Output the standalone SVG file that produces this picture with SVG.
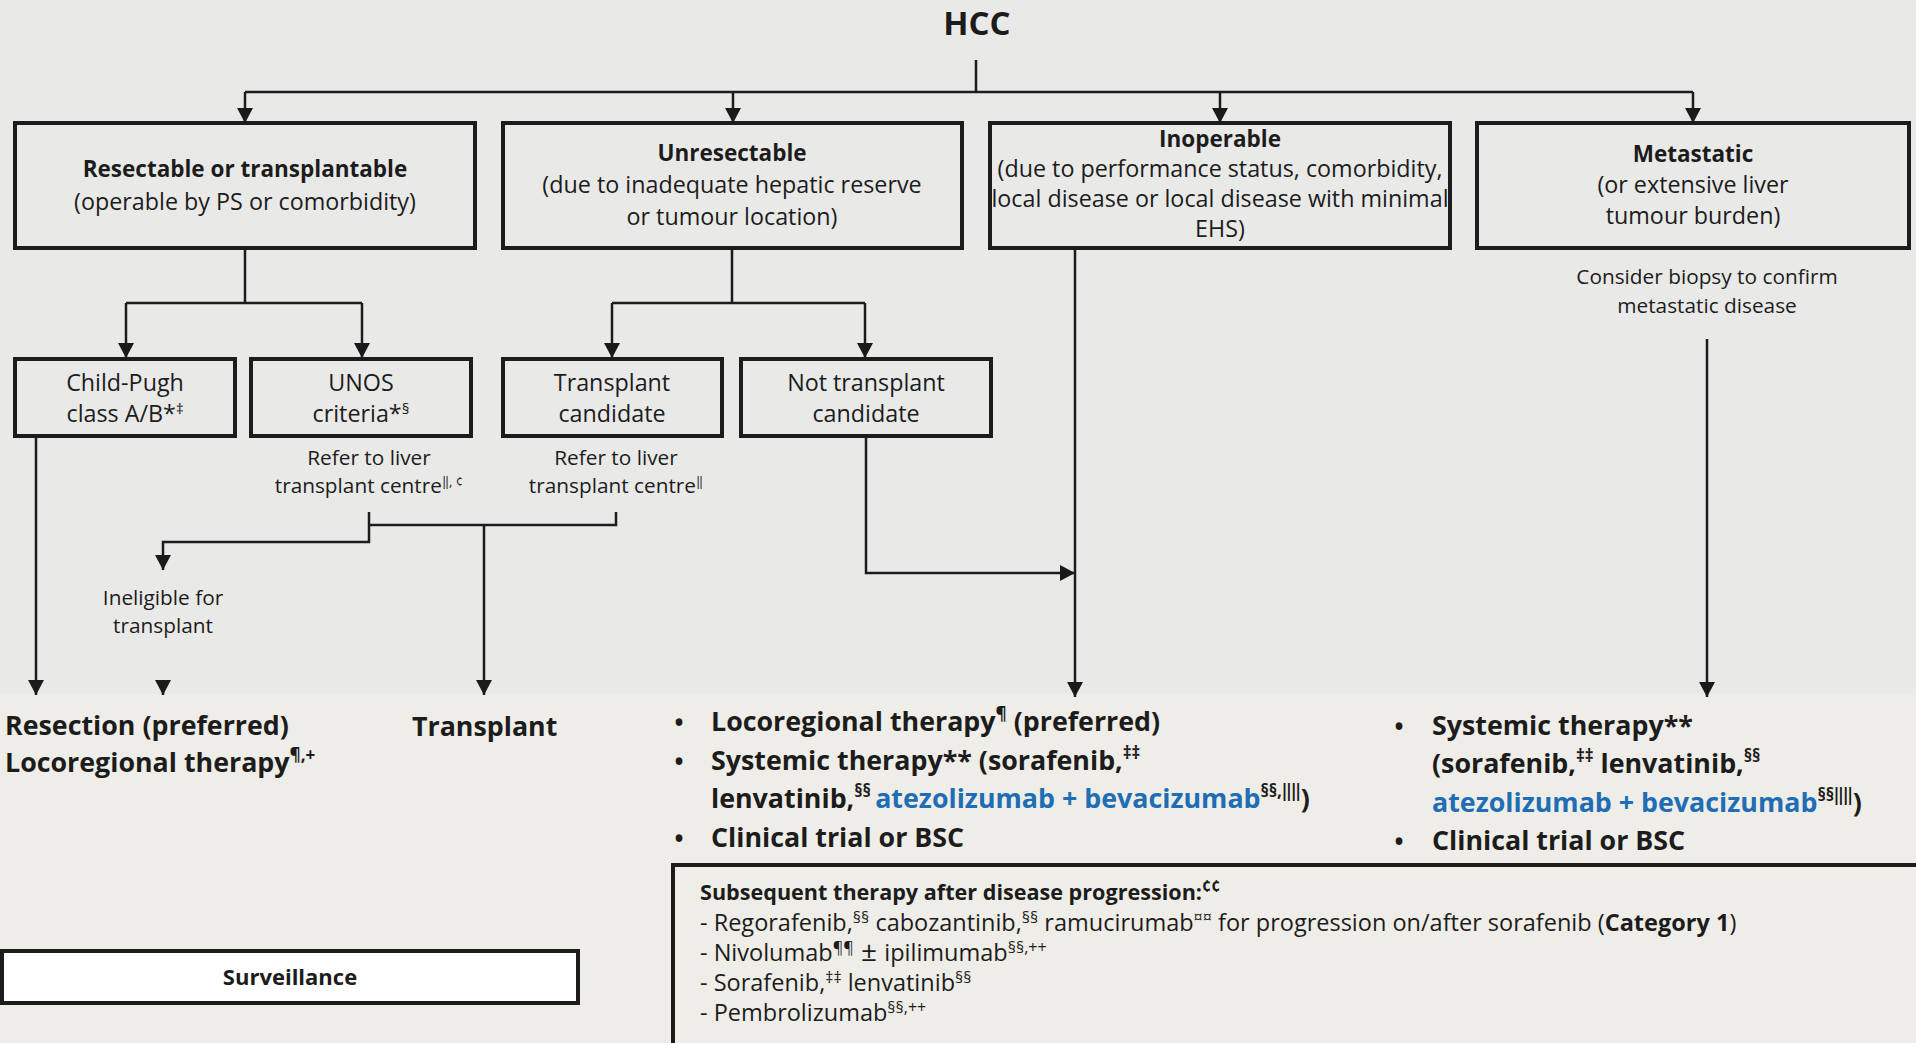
<svg xmlns="http://www.w3.org/2000/svg" width="1916" height="1043" viewBox="0 0 1916 1043">
<defs>
<marker id="ah" markerUnits="userSpaceOnUse" markerWidth="16" markerHeight="16" refX="15" refY="8" orient="auto">
<path d="M0,0 L15,8 L0,16 z" fill="#1a1a1a"/>
</marker>
<style>
.t{font-family:"Open Sans","Noto Sans","Liberation Sans",sans-serif;fill:#1c1c1c;}
.b{font-weight:bold;}
.m{text-anchor:middle;}
.bx{font-size:23.3px;}
.bt{font-size:22.5px;font-weight:bold;}
.sm{font-size:20.8px;}
.big{font-size:26.8px;font-weight:bold;}
.bul{font-size:32px;}
.sub{font-size:23.5px;}
.sp{font-size:16px;}
.blue{fill:#1f6db4;}
.box{fill:none;stroke:#1c1c1c;stroke-width:4;}
.c{fill:none;stroke:#1c1c1c;stroke-width:2.5;}
.a{marker-end:url(#ah);}
</style>
</defs>
<rect x="0" y="0" width="1916" height="694" fill="#e9e9e8"/>
<rect x="0" y="694" width="1916" height="349" fill="#eeede7"/>

<g id="connectors">
<path class="c" d="M976,60 V92 M245,92 H1693"/>
<path class="c a" d="M245,92 V123"/>
<path class="c a" d="M733,92 V123"/>
<path class="c a" d="M1220,92 V123"/>
<path class="c a" d="M1693,92 V123"/>
<path class="c" d="M245,248 V303 M126,303 H362"/>
<path class="c a" d="M126,303 V358"/>
<path class="c a" d="M362,303 V358"/>
<path class="c" d="M732,248 V303 M612,303 H865"/>
<path class="c a" d="M612,303 V358"/>
<path class="c a" d="M865,303 V358"/>
<path class="c a" d="M36,436 V695"/>
<path class="c a" d="M369,512 V542 H163 V570"/>
<path class="c" d="M369,525 H616 V512"/>
<path class="c a" d="M484,525 V695"/>
<path class="c a" d="M163,680 V695"/>
<path class="c a" d="M866,436 V573 H1075"/>
<path class="c a" d="M1075,248 V697"/>
<path class="c a" d="M1707,339 V697"/>
</g>

<g id="hcc"><text class="t b m" x="977" y="35" font-size="33">HCC</text></g>

<g id="resectable">
<rect class="box" x="15" y="123" width="460" height="125"/>
<text class="t m bt" x="245" y="177">Resectable or transplantable</text>
<text class="t m bx" x="245" y="210">(operable by PS or comorbidity)</text>
</g>

<g id="unresectable">
<rect class="box" x="503" y="123" width="459" height="125"/>
<text class="t m bt" x="732" y="161">Unresectable</text>
<text class="t m bx" x="732" y="193">(due to inadequate hepatic reserve</text>
<text class="t m bx" x="732" y="225">or tumour location)</text>
</g>

<g id="inoperable">
<rect class="box" x="990" y="123" width="460" height="125"/>
<text class="t m bt" x="1220" y="147">Inoperable</text>
<text class="t m bx" x="1220" y="177">(due to performance status, comorbidity,</text>
<text class="t m bx" x="1220" y="207">local disease or local disease with minimal</text>
<text class="t m bx" x="1220" y="237">EHS)</text>
</g>

<g id="metastatic">
<rect class="box" x="1477" y="123" width="432" height="125"/>
<text class="t m bt" x="1693" y="162">Metastatic</text>
<text class="t m bx" x="1693" y="193">(or extensive liver</text>
<text class="t m bx" x="1693" y="224">tumour burden)</text>
<text class="t m sm" x="1707" y="284">Consider biopsy to confirm</text>
<text class="t m sm" x="1707" y="313">metastatic disease</text>
</g>

<g id="childpugh">
<rect class="box" x="15" y="359" width="220" height="77"/>
<text class="t m bx" x="125" y="391">Child-Pugh</text>
<text class="t m bx" x="125" y="422">class A/B*<tspan font-size="15" dy="-8">‡</tspan></text>
</g>

<g id="unos">
<rect class="box" x="251" y="359" width="220" height="77"/>
<text class="t m bx" x="361" y="391">UNOS</text>
<text class="t m bx" x="361" y="422">criteria*<tspan font-size="15" dy="-8">§</tspan></text>
<text class="t m sm" x="369" y="465">Refer to liver</text>
<text class="t m sm" x="369" y="493">transplant centre<tspan font-size="13" dy="-7">‖, ¢</tspan></text>
</g>

<g id="transplantcandidate">
<rect class="box" x="503" y="359" width="219" height="77"/>
<text class="t m bx" x="612" y="391">Transplant</text>
<text class="t m bx" x="612" y="422">candidate</text>
<text class="t m sm" x="616" y="465">Refer to liver</text>
<text class="t m sm" x="616" y="493">transplant centre<tspan font-size="13" dy="-7">‖</tspan></text>
</g>

<g id="nottransplant">
<rect class="box" x="741" y="359" width="250" height="77"/>
<text class="t m bx" x="866" y="391">Not transplant</text>
<text class="t m bx" x="866" y="422">candidate</text>
</g>

<g id="ineligible">
<text class="t m sm" x="163" y="605">Ineligible for</text>
<text class="t m sm" x="163" y="633">transplant</text>
</g>

<g id="resection">
<text class="t big" x="5" y="735">Resection (preferred)</text>
<text class="t big" x="5" y="772">Locoregional therapy<tspan font-size="17" dy="-11">¶,+</tspan></text>
</g>

<g id="transplant">
<text class="t big" x="412" y="736">Transplant</text>
</g>

<g id="inoperable-tx">
<text class="t bul" x="673" y="734">•</text>
<text class="t big" x="711" y="731">Locoregional therapy<tspan font-size="17" dy="-11">¶</tspan><tspan dy="11"> (preferred)</tspan></text>
<text class="t bul" x="673" y="773">•</text>
<text class="t big" x="711" y="770">Systemic therapy** (sorafenib,<tspan font-size="17" dy="-11">‡‡</tspan></text>
<text class="t big" x="711" y="808">lenvatinib,<tspan font-size="17" dy="-11">§§ </tspan><tspan class="blue" dy="11">atezolizumab + bevacizumab</tspan><tspan font-size="17" dy="-11">§§,‖‖</tspan><tspan dy="11">)</tspan></text>
<text class="t bul" x="673" y="850">•</text>
<text class="t big" x="711" y="847">Clinical trial or BSC</text>
</g>

<g id="metastatic-tx">
<text class="t bul" x="1393" y="738">•</text>
<text class="t big" x="1432" y="735">Systemic therapy**</text>
<text class="t big" x="1432" y="773">(sorafenib,<tspan font-size="17" dy="-11">‡‡</tspan><tspan dy="11"> lenvatinib,</tspan><tspan font-size="17" dy="-11">§§</tspan></text>
<text class="t big" x="1432" y="812"><tspan class="blue">atezolizumab + bevacizumab</tspan><tspan font-size="17" dy="-11">§§‖‖</tspan><tspan dy="11">)</tspan></text>
<text class="t bul" x="1393" y="853">•</text>
<text class="t big" x="1432" y="850">Clinical trial or BSC</text>
</g>

<g id="subsequent">
<rect class="box" x="673" y="865" width="1250" height="190"/>
<text class="t b" x="700" y="900" font-size="21.6">Subsequent therapy after disease progression:<tspan class="sp" dy="-8">¢¢</tspan></text>
<text class="t sub" x="700" y="931">- Regorafenib,<tspan class="sp" dy="-8">§§</tspan><tspan dy="8"> cabozantinib,</tspan><tspan class="sp" dy="-8">§§</tspan><tspan dy="8"> ramucirumab</tspan><tspan class="sp" dy="-8">¤¤</tspan><tspan dy="8"> for progression on/after sorafenib (</tspan><tspan class="b">Category 1</tspan>)</text>
<text class="t sub" x="700" y="961">- Nivolumab<tspan class="sp" dy="-8">¶¶</tspan><tspan dy="8" font-size="28"> ± </tspan>ipilimumab<tspan class="sp" dy="-8">§§,++</tspan></text>
<text class="t sub" x="700" y="991">- Sorafenib,<tspan class="sp" dy="-8">‡‡</tspan><tspan dy="8"> lenvatinib</tspan><tspan class="sp" dy="-8">§§</tspan></text>
<text class="t sub" x="700" y="1021">- Pembrolizumab<tspan class="sp" dy="-8">§§,++</tspan></text>
</g>

<g id="surveillance">
<rect x="2" y="951" width="576" height="52" fill="#ffffff" stroke="#1c1c1c" stroke-width="4"/>
<text class="t b m" x="290" y="985" font-size="22">Surveillance</text>
</g>
</svg>
